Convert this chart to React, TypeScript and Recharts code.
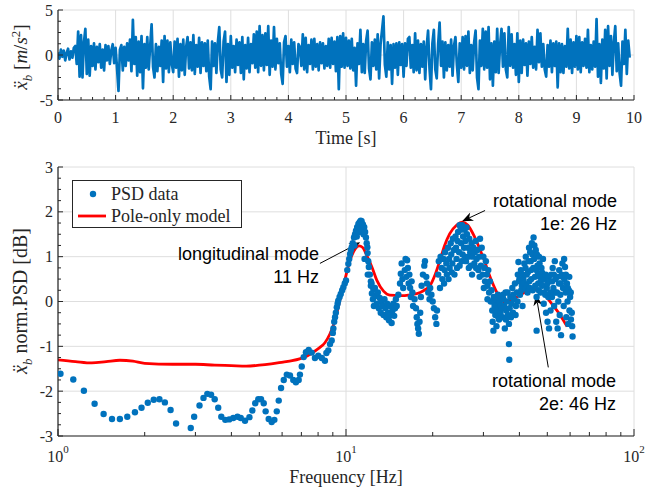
import React from "react";
import {
  LineChart,
  Line,
  ComposedChart,
  Scatter,
  XAxis,
  YAxis,
  CartesianGrid,
  ReferenceLine,
} from "recharts";

const SERIF = '"Liberation Serif", "Times New Roman", serif';
const SANS = '"Liberation Sans", Arial, sans-serif';
const BLUE = "#0072BD";
const RED = "#FF0000";
const GRID = "#DEDEDE";

// ---- top panel: base acceleration, sampled every 25 ms ----
const timeStep = 0.025;
const accel = [
  0.3, -0.4, 0.6, -0.2, 0.5, -0.6, 0.2, 0.7, -0.5, 0.4, -0.3, 0.8, 1.0, -1.0, 2.6, -2.4, 2.2, -2.5, 1.4, 2.9,
  -2.1, 1.7, -2.3, 1.0, -1.2, 1.3, -1.6, 0.9, -0.8, 1.2, -1.4, 0.6, -1.7, 1.1, -0.6, 1.0, -1.0, 0.5, 1.2, -0.9,
  0.8, -1.5, -4.0, 0.6, 1.1, -1.7, 0.9, -1.2, 1.3, -0.6, 1.7, -1.8, 3.9, -1.0, 2.0, -2.3, 1.5, -1.9, 2.1, -3.7,
  1.2, -1.4, 2.0, -1.6, 1.0, 3.4, -1.3, -2.5, 1.2, -1.8, 0.9, -1.2, 1.6, -3.0, 2.1, -1.5, 1.6, -1.9, 1.4, -1.0,
  -1.9, 1.5, -1.4, 1.8, -2.4, 1.2, -1.7, 1.7, -2.2, 0.9, 2.0, -1.5, 1.4, -1.7, 2.2, -2.1, 1.1, -1.3, 1.9, -2.0,
  1.4, -1.2, 1.3, -1.8, 1.6, -2.4, -3.8, 1.5, -1.2, 1.3, -2.0, 1.4, 3.1, -1.6, -2.5, 1.5, 2.6, -3.0, 1.2, -2.2,
  2.1, -1.4, 1.0, -1.9, 1.7, -1.1, 1.4, -2.0, 2.0, -2.7, 1.1, -1.5, 1.9, -1.9, 1.2, -0.9, 2.3, -1.4, 2.6, -1.9,
  3.2, -1.2, 2.2, -1.7, 2.4, -1.1, 3.2, -2.2, 1.6, -1.3, 3.1, -1.6, 1.8, -0.9, 1.3, -2.1, -3.2, 1.4, 2.1, -1.3,
  1.0, -1.9, 1.7, -1.0, 1.4, -1.5, -2.0, 1.2, 0.9, -1.2, 2.3, -1.6, 1.9, -1.9, 1.1, -1.0, 1.7, -1.6, 1.8, -1.3,
  1.2, -1.7, 1.4, -0.9, 1.3, -1.5, 1.0, -1.2, 1.8, -1.4, 1.9, -1.0, 1.5, -1.8, 2.0, -3.8, 2.1, -1.3, 2.4, -1.4,
  1.9, -1.2, 1.6, -1.5, 1.8, -1.7, 0.8, -3.4, 1.3, -1.0, 2.8, -1.9, 1.2, -2.0, 1.6, 2.7, -1.5, -2.7, 1.4, -1.2,
  1.7, -1.6, 2.3, -2.6, 1.2, 2.7, 4.3, -1.1, -2.4, 1.4, -1.6, 1.1, -3.2, 1.2, -1.4, 1.3, -2.2, 1.4, -1.1, 1.2,
  -2.4, 1.3, -1.2, 1.8, 2.0, -1.4, 1.1, -1.9, 2.4, -1.7, 1.6, -2.0, 1.2, -1.3, 1.5, -2.7, 0.9, 2.7, -1.5, -3.8,
  1.3, 2.8, -1.6, -2.6, 1.2, 3.6, -1.2, 1.5, -2.5, 1.4, -1.7, 1.1, -1.3, 1.7, -2.3, 1.0, 2.0, -1.1, -3.0, 1.3,
  -1.4, 2.0, -1.6, 2.1, -1.2, 2.6, -2.0, 1.1, -1.7, 1.4, 2.7, -2.5, -3.8, 1.6, -1.2, 2.9, -1.6, 2.6, -1.4, 3.1,
  -2.7, 1.3, -3.4, 1.5, -1.9, 2.9, -2.0, 1.1, 2.9, -1.3, 2.4, -1.6, -2.5, 3.1, -1.2, 2.3, -1.4, 1.2, -2.2, 2.4,
  -3.0, 1.6, -2.0, 1.7, -1.1, 1.3, -2.3, 1.5, -1.0, 2.0, -1.4, 0.9, -1.6, 2.8, -0.8, 2.4, -1.3, 1.2, -1.6, -2.4,
  1.1, -1.3, 1.6, -1.9, 1.3, -1.2, 1.5, -3.6, 1.3, -1.9, 1.2, -2.0, 1.0, -1.3, 2.9, -1.5, 1.7, -2.0, 1.4, -1.3,
  2.1, -1.6, 2.0, -1.9, 1.4, -1.2, 1.8, -1.4, 2.8, -1.9, 1.1, -1.6, 1.5, -1.3, 4.0, -2.4, 1.2, -3.1, 1.7, -1.5,
  2.8, -2.6, 3.2, -1.2, 2.1, -2.2, 1.4, 3.2, -1.8, 1.3, -2.0, -3.4, 1.5, -1.0, 2.8, -2.1, 1.6, -0.3,
];
const timeTicks = [0, 1, 2, 3, 4, 5, 6, 7, 8, 9, 10];
const accelTicks = [-5, 0, 5];

// ---- bottom panel: normalised PSD [Hz, dB] ----
const psdLow: [number, number][] = [
  [1.02, -1.61], [1.13, -1.74], [1.23, -1.99], [1.34, -2.28], [1.44, -2.51], [1.54, -2.62], [1.64, -2.62],
  [1.74, -2.57], [1.85, -2.47], [1.95, -2.37], [2.05, -2.26], [2.15, -2.19], [2.25, -2.18], [2.35, -2.25],
  [2.46, -2.42], [2.57, -2.72], [2.89, -2.82], [2.97, -2.57], [3.1, -2.32], [3.2, -2.15], [3.3, -2.06],
  [3.4, -2.08], [3.5, -2.18], [3.6, -2.37], [3.69, -2.57], [3.81, -2.64], [3.93, -2.63], [4.06, -2.6],
  [4.2, -2.57], [4.31, -2.6], [4.46, -2.66], [4.62, -2.58], [4.73, -2.43], [4.84, -2.27], [4.96, -2.18],
  [5.07, -2.18], [5.18, -2.27], [5.26, -2.45], [5.39, -2.62], [5.52, -2.69], [5.64, -2.64], [5.75, -2.45],
  [5.84, -2.21], [5.95, -1.93], [6.08, -1.75], [6.23, -1.63], [6.39, -1.65], [6.56, -1.75], [6.7, -1.8],
  [6.85, -1.75], [6.92, -1.63], [7.02, -1.45], [7.13, -1.24], [7.26, -1.13], [7.42, -1.08], [7.6, -1.14],
  [7.8, -1.26], [8.01, -1.21], [8.24, -1.26], [8.45, -1.32],
];
const psdFirstMode: [number, number][] = [
  [8.55, -1.15], [8.68, -1.09], [8.8, -0.95], [8.92, -0.87], [9.0, -0.7], [9.04, -0.6], [9.1, -0.45],
  [9.16, -0.35], [9.22, -0.25], [9.29, -0.13], [9.35, -0.05], [9.4, 0.02], [9.5, 0.1], [9.59, 0.17],
  [9.7, 0.25], [9.79, 0.32], [9.9, 0.4], [10.0, 0.47], [10.1, 0.7], [10.19, 0.84], [10.26, 0.95],
  [10.33, 1.06], [10.4, 1.15], [10.47, 1.21], [10.55, 1.3], [10.66, 1.43], [10.7, 1.25], [10.75, 1.5],
  [10.83, 1.58], [10.9, 1.45], [10.93, 1.66], [11.04, 1.73], [11.1, 1.55], [11.15, 1.77], [11.25, 1.8],
  [11.3, 1.62], [11.33, 1.79], [11.45, 1.72], [11.5, 1.5], [11.57, 1.66], [11.6, 0.95], [11.65, 1.55],
  [11.73, 1.43], [11.8, 1.3], [11.86, 1.21], [11.89, 1.08], [11.9, 0.6], [11.95, 0.9], [12.0, 0.77],
  [12.1, 0.6], [12.2, 0.45], [12.27, 0.4], [12.44, 0.28],
];
const psdMid: [number, number][] = [
  [12.2, 0.35], [12.3, 0.18], [12.4, 0.05], [12.5, -0.1], [12.6, 0.3], [12.7, 0.12], [12.8, -0.05],
  [12.9, 0.2], [13.0, -0.15], [13.1, 0.08], [13.2, -0.25], [13.3, 0.0], [13.4, -0.1], [13.5, -0.3],
  [13.6, 0.05], [13.7, -0.15], [13.8, -0.35], [13.9, -0.05], [14.0, -0.25], [14.1, -0.42], [14.2, -0.1],
  [14.3, -0.3], [14.4, -0.48], [14.5, -0.2], [14.6, -0.05], [14.7, -0.32], [14.8, -0.15], [14.9, 0.05],
  [15.0, -0.1], [15.2, 0.15], [15.4, 0.4], [15.5, 0.62], [15.6, 0.85], [15.7, 0.5], [15.8, 0.3],
  [16.0, 0.7], [16.1, 0.95], [16.2, 0.55], [16.3, 0.92], [16.4, 0.75], [16.5, 0.4], [16.6, 0.6],
  [16.7, 0.3], [16.8, 0.1], [16.9, 0.45], [17.0, 0.2], [17.1, -0.1], [17.3, 0.05], [17.5, -0.15],
  [17.6, -0.35], [17.7, -0.5], [17.8, -0.6], [17.9, -0.72], [18.0, -0.45], [18.1, -0.25], [18.2, 0.1],
  [18.3, 0.35], [18.5, 0.6], [18.7, 0.8], [18.8, 0.9], [19.0, 0.55], [19.1, 0.4], [19.3, 0.2],
  [19.5, 0.05], [19.6, 0.3], [19.8, 0.15], [20.0, 0.0], [20.2, -0.15], [20.4, -0.35], [20.6, -0.5],
  [20.7, -0.2],
];
const psdSecondMode: [number, number][] = [
  [20.9, 0.6], [21.0, 0.9], [21.2, 0.3], [21.3, 1.0], [21.5, 0.75], [21.6, 0.5], [21.8, 0.95], [21.9, 0.4],
  [22.0, 0.7], [22.1, 1.1], [22.3, 0.85], [22.4, 0.6], [22.6, 1.2], [22.7, 0.5], [22.8, 0.95], [22.9, 0.75],
  [23.1, 1.3], [23.2, 1.05], [23.3, 0.65], [23.4, 0.85], [23.5, 1.4], [23.7, 1.15], [23.8, 0.6], [24.0, 1.45],
  [24.1, 1.2], [24.2, 0.95], [24.3, 0.75], [24.4, 1.35], [24.5, 1.55], [24.7, 1.1], [24.8, 0.8], [24.8, 1.7],
  [25.0, 1.6], [25.1, 1.3], [25.2, 0.9], [25.3, 1.7], [25.4, 1.05], [25.5, 1.45], [25.7, 1.2], [25.8, 1.6],
  [25.9, 1.0], [26.0, 1.35], [26.1, 0.9], [26.2, 1.65], [26.3, 1.5], [26.5, 1.2], [26.6, 1.0], [26.7, 0.75],
  [26.8, 1.4], [27.0, 1.1], [27.1, 0.8], [27.3, 1.3], [27.4, 0.6], [27.5, 1.0], [27.7, 1.2], [27.9, 0.85],
  [28.0, 1.1], [28.2, 1.35], [28.3, 0.75], [28.4, 0.95], [28.6, 1.15], [28.8, 0.7], [29.0, 1.0], [29.1, 0.55],
  [29.2, 1.4], [29.4, 0.8], [29.6, 1.2], [29.8, 0.6], [30.0, 1.0], [30.1, 0.3], [30.2, 0.75], [30.4, 0.45],
  [30.6, 0.9], [30.8, 0.6], [31.0, 0.35], [31.0, 0.05], [31.2, 0.7], [31.4, 0.2], [31.6, 0.45], [31.8, 0.0],
  [32.0, 0.25],
];
const psdHigh: [number, number][] = [
  [32.2, -0.2], [32.3, -0.45], [32.4, 0.0], [32.5, -0.65], [32.6, 0.1], [32.8, -0.1], [33.0, -0.3],
  [33.1, -0.15], [33.2, 0.05], [33.3, -0.55], [33.5, -0.2], [33.7, 0.15], [33.8, -0.35], [33.9, -0.05],
  [34.0, -0.4], [34.2, 0.0], [34.4, -0.25], [34.5, -0.1], [34.6, 0.1], [34.8, -0.15], [35.0, -0.35],
  [35.1, 0.15], [35.2, 0.05], [35.4, -0.1], [35.6, -0.6], [35.8, 0.2], [35.9, -0.4], [36.0, -0.2],
  [36.2, 0.0], [36.4, 0.2], [36.5, -0.3], [36.8, -0.5], [36.8, -0.95], [36.9, -1.3], [37.0, -0.15],
  [37.2, 0.1], [37.4, -0.35], [37.5, -0.05], [37.8, 0.3], [38.0, -0.25], [38.1, 0.15], [38.3, 0.05],
  [38.6, 0.4], [38.8, -0.3], [38.9, -0.1], [39.2, 0.2], [39.4, 0.0], [39.5, 0.6], [39.7, 0.88],
  [39.9, 0.45], [40.0, 0.5], [40.2, 0.15], [40.5, 0.7], [40.6, 0.25], [40.8, 0.35], [41.0, -0.1],
  [41.1, 0.6], [41.3, 0.5], [41.5, 0.4], [41.6, 0.85], [41.9, 0.3], [42.0, 0.75], [42.1, 1.0],
  [42.3, 0.35], [42.4, 0.6], [42.7, 0.2], [42.8, 0.65], [43.0, 0.9], [43.2, 1.2], [43.3, 0.45],
  [43.5, 0.3], [43.6, 1.1], [43.8, 0.9], [43.9, 0.7], [44.0, 0.5], [44.2, 1.3], [44.4, 1.05],
  [44.5, 0.25], [44.7, 0.75], [44.8, 1.43], [45.0, 0.95], [45.1, 1.25], [45.3, 0.55], [45.4, 0.35],
  [45.6, 1.15], [45.8, 0.7], [45.9, 0.1], [45.9, -0.65], [46.0, 1.05], [46.2, 0.8], [46.4, 0.6],
  [46.5, 0.4], [46.7, 0.25], [46.8, 1.0], [47.0, 0.85], [47.1, 0.55], [47.4, 0.2], [47.5, 0.45],
  [47.7, 0.75], [47.9, 0.65], [48.0, 0.35], [48.3, 0.95], [48.4, 0.55], [48.6, -0.05], [48.8, 0.2],
  [48.9, 0.5], [49.2, 0.15], [49.4, 0.6], [49.5, -0.25], [49.8, 0.3], [50.0, 0.4], [50.1, -0.45],
  [50.4, 0.1], [50.6, 0.55], [50.7, -0.6], [51.0, 0.45], [51.2, 0.2], [51.3, -0.2], [51.6, 0.6],
  [51.9, 0.1], [52.0, 0.45], [52.2, 0.75], [52.5, 0.3], [52.7, 0.6], [52.8, -0.1], [53.1, 0.9],
  [53.3, 0.2], [53.4, 0.5], [53.7, -0.45], [54.0, 0.2], [54.2, 0.55], [54.3, -0.6], [54.6, 0.0],
  [54.9, 0.4], [55.0, 0.7], [55.2, -0.3], [55.5, 0.15], [55.7, 0.4], [55.8, -0.75], [56.1, 0.6],
  [56.4, 0.85], [56.5, 0.55], [56.7, 0.3], [57.0, -0.1], [57.2, 0.95], [57.3, 0.5], [57.6, 0.77],
  [57.9, 0.2], [58.0, 0.6], [58.2, -0.35], [58.5, 0.4], [58.8, 0.0], [58.9, 0.3], [59.1, -0.5],
  [59.4, 0.25], [59.6, 0.55], [59.7, -0.2], [60.0, 0.1], [60.3, 0.2], [60.4, -0.4], [60.8, -0.25],
  [61.0, -0.55], [61.2, -0.78],
];
const poleModel: [number, number][] = [
  [1, -1.3], [1.15, -1.34], [1.31, -1.37], [1.47, -1.34], [1.64, -1.31], [1.82, -1.33], [2.0, -1.38],
  [2.5, -1.4], [3.0, -1.4], [3.5, -1.42], [4.0, -1.43], [4.5, -1.44], [5.0, -1.42], [5.5, -1.39],
  [6.05, -1.35], [6.5, -1.32], [6.9, -1.28], [7.3, -1.22], [7.7, -1.13], [8.1, -1.03], [8.45, -0.92],
  [8.8, -0.72], [9.16, -0.42], [9.5, 0.0], [9.9, 0.47], [10.33, 0.92], [10.78, 1.18], [11.1, 1.24],
  [11.4, 1.21], [11.8, 1.03], [12.3, 0.77], [12.8, 0.47], [13.5, 0.23], [14.2, 0.14], [15.4, 0.13],
  [16.7, 0.15], [18.1, 0.2], [19.0, 0.28], [19.6, 0.36], [20.4, 0.6], [21.2, 0.92], [22.0, 1.25],
  [22.9, 1.51], [24.2, 1.7], [25.4, 1.77], [26.5, 1.7], [28.0, 1.43], [29.9, 0.99], [32.0, 0.47],
  [33.9, 0.13], [35.6, -0.02], [37.5, 0.02], [39.8, 0.13], [43.5, 0.25], [45.5, 0.26], [48.5, 0.17],
  [51.8, -0.05], [55.5, -0.31], [58.6, -0.56],
];
const freqMajor = [1, 10, 100];
const dbTicks = [-3, -2, -1, 0, 1, 2, 3];

// arrows: [tail Hz, tail dB, tip Hz, tip dB]
const arrowSegments: [number, number, number, number][] = [
  [8.12, 0.85, 11.2, 1.32],
  [30.4, 2.03, 25.3, 1.79],
  [50.4, -1.47, 45.7, 0.15],
];

// ---- tick helpers ----
const timeAll = Array.from({ length: 51 }, (_, i) => Math.round(i * 2) / 10);
const accelAll = Array.from({ length: 9 }, (_, i) => -5 + i * 1.25);
const dbAll = Array.from({ length: 25 }, (_, i) => -3 + i * 0.25);
const freqAll: number[] = [];
[1, 10].forEach((d) => {
  for (let k = 1; k < 10; k++) freqAll.push(d * k);
});
freqAll.push(100);

const isInt = (v: number) => Math.abs(v - Math.round(v)) < 1e-6;

type Side = "bottom" | "top" | "left" | "right";

function makeTick(
  side: Side,
  isMajor: (v: number) => boolean,
  majorLen: number,
  minorLen: number,
  label?: (v: number, x: number, y: number) => React.ReactNode
) {
  return (props: any) => {
    const { x, y, payload } = props;
    const v = payload.value as number;
    const major = isMajor(v);
    const len = major ? majorLen : minorLen;
    let l = { x1: x, y1: y, x2: x, y2: y };
    if (side === "bottom") l = { x1: x, y1: y, x2: x, y2: y - len };
    if (side === "top") l = { x1: x, y1: y, x2: x, y2: y + len };
    if (side === "left") l = { x1: x, y1: y, x2: x + len, y2: y };
    if (side === "right") l = { x1: x, y1: y, x2: x - len, y2: y };
    return (
      <g>
        <line {...l} stroke="#262626" strokeWidth={1} />
        {label && major ? label(v, x, y) : null}
      </g>
    );
  };
}

const linearBottomLabel = (v: number, x: number, y: number) => (
  <text x={x} y={y + 17} textAnchor="middle" dominantBaseline="central" fontSize={16} fontFamily={SERIF} fill="#262626">
    {v}
  </text>
);
const leftLabel = (v: number, x: number, y: number) => (
  <text x={x - 5} y={y} textAnchor="end" dominantBaseline="central" fontSize={16} fontFamily={SERIF} fill="#262626">
    {v}
  </text>
);
const logBottomLabel = (v: number, x: number, y: number) => (
  <text x={x} y={y + 20} textAnchor="middle" dominantBaseline="central" fontSize={16} fontFamily={SERIF} fill="#262626">
    <tspan>10</tspan>
    <tspan dy={-7} fontSize={11}>{Math.round(Math.log10(v))}</tspan>
  </text>
);

const isDecade = (v: number) => freqMajor.some((m) => Math.abs(m - v) < 1e-6);

function Arrow(props: any) {
  const { x1, y1, x2, y2 } = props;
  const a = Math.atan2(y2 - y1, x2 - x1);
  const c = Math.cos(a);
  const s = Math.sin(a);
  const L = 11;
  const W = 4.5;
  const bx = x2 - L * c;
  const by = y2 - L * s;
  const nx = x2 - 0.7 * L * c;
  const ny = y2 - 0.7 * L * s;
  const pts = `${x2},${y2} ${bx + W * s},${by - W * c} ${nx},${ny} ${bx - W * s},${by + W * c}`;
  return (
    <g>
      <line x1={x1} y1={y1} x2={nx} y2={ny} stroke="#000" strokeWidth={1} />
      <polygon points={pts} fill="#000" />
    </g>
  );
}

const Dot = (props: any) => <circle cx={props.cx} cy={props.cy} r={3.2} fill={BLUE} />;

const annText: React.CSSProperties = {
  position: "absolute",
  fontFamily: SANS,
  fontSize: 18,
  lineHeight: "23px",
  textAlign: "right",
  color: "#000",
  whiteSpace: "nowrap",
  transform: "translateX(-100%)",
};

const axisTitle: React.CSSProperties = {
  position: "absolute",
  fontFamily: SERIF,
  fontSize: 18,
  color: "#262626",
  whiteSpace: "nowrap",
  transform: "translate(-50%, -50%)",
};

export default function App() {
  const timeData = accel.map((a, i) => ({ t: i * timeStep, a }));
  const psdData = [...psdLow, ...psdFirstMode, ...psdMid, ...psdSecondMode, ...psdHigh].map(([f, v]) => ({ f, v }));
  const modelData = poleModel.map(([f, v]) => ({ f, v }));

  return (
    <div style={{ position: "absolute", left: 0, top: 0, width: 659, height: 491, background: "#fff", overflow: "hidden" }}>
      <div style={{ position: "absolute", left: 0, top: 0 }}>
        <LineChart width={659} height={150} data={timeData} margin={{ top: 10, right: 25, bottom: 0, left: 0 }}>
          <XAxis xAxisId="grid" dataKey="t" type="number" domain={[0, 10]} ticks={timeTicks} hide allowDataOverflow />
          <YAxis yAxisId="grid" type="number" domain={[-5, 5]} ticks={accelTicks} hide allowDataOverflow />
          <CartesianGrid xAxisId="grid" yAxisId="grid" stroke={GRID} />
          <XAxis
            dataKey="t"
            type="number"
            domain={[0, 10]}
            ticks={timeAll}
            interval={0}
            height={50}
            tickSize={0}
            tickMargin={0}
            tickLine={false}
            axisLine={{ stroke: "#262626", strokeWidth: 1.2 }}
            tick={makeTick("bottom", isInt, 5, 3, linearBottomLabel)}
            allowDataOverflow
          />
          <XAxis
            xAxisId="top"
            orientation="top"
            dataKey="t"
            type="number"
            domain={[0, 10]}
            ticks={timeAll}
            interval={0}
            height={0}
            tickSize={0}
            tickMargin={0}
            tickLine={false}
            axisLine={{ stroke: "#262626", strokeWidth: 1.2 }}
            tick={makeTick("top", isInt, 5, 3)}
            allowDataOverflow
          />
          <YAxis
            dataKey="a"
            type="number"
            domain={[-5, 5]}
            ticks={accelAll}
            interval={0}
            width={58}
            tickSize={0}
            tickMargin={0}
            tickLine={false}
            axisLine={{ stroke: "#262626", strokeWidth: 1.2 }}
            tick={makeTick("left", (v) => accelTicks.includes(v), 5, 3, leftLabel)}
            allowDataOverflow
          />
          <YAxis
            yAxisId="right"
            orientation="right"
            type="number"
            domain={[-5, 5]}
            ticks={accelAll}
            interval={0}
            width={0}
            tickSize={0}
            tickMargin={0}
            tickLine={false}
            axisLine={{ stroke: "#262626", strokeWidth: 1.2 }}
            tick={makeTick("right", (v) => accelTicks.includes(v), 5, 3)}
            allowDataOverflow
          />
          <Line
            dataKey="a"
            type="linear"
            stroke={BLUE}
            strokeWidth={2.7}
            strokeLinejoin="round"
            dot={false}
            activeDot={false}
            isAnimationActive={false}
          />
        </LineChart>
      </div>

      <div style={{ position: "absolute", left: 0, top: 150 }}>
        <ComposedChart width={659} height={341} margin={{ top: 17, right: 25, bottom: 0, left: 0 }}>
          <XAxis xAxisId="grid" dataKey="f" type="number" scale="log" domain={[1, 100]} ticks={freqMajor} hide allowDataOverflow />
          <YAxis yAxisId="grid" type="number" domain={[-3, 3]} ticks={dbTicks} hide allowDataOverflow />
          <CartesianGrid xAxisId="grid" yAxisId="grid" stroke={GRID} />
          <XAxis
            dataKey="f"
            type="number"
            scale="log"
            domain={[1, 100]}
            ticks={freqAll}
            interval={0}
            height={55}
            tickSize={0}
            tickMargin={0}
            tickLine={false}
            axisLine={{ stroke: "#262626", strokeWidth: 1.2 }}
            tick={makeTick("bottom", isDecade, 7, 4, logBottomLabel)}
            allowDataOverflow
          />
          <XAxis
            xAxisId="top"
            orientation="top"
            dataKey="f"
            type="number"
            scale="log"
            domain={[1, 100]}
            ticks={freqAll}
            interval={0}
            height={0}
            tickSize={0}
            tickMargin={0}
            tickLine={false}
            axisLine={{ stroke: "#262626", strokeWidth: 1.2 }}
            tick={makeTick("top", isDecade, 7, 4)}
            allowDataOverflow
          />
          <YAxis
            dataKey="v"
            type="number"
            domain={[-3, 3]}
            ticks={dbAll}
            interval={0}
            width={58}
            tickSize={0}
            tickMargin={0}
            tickLine={false}
            axisLine={{ stroke: "#262626", strokeWidth: 1.2 }}
            tick={makeTick("left", isInt, 5, 3, leftLabel)}
            allowDataOverflow
          />
          <YAxis
            yAxisId="right"
            orientation="right"
            type="number"
            domain={[-3, 3]}
            ticks={dbAll}
            interval={0}
            width={0}
            tickSize={0}
            tickMargin={0}
            tickLine={false}
            axisLine={{ stroke: "#262626", strokeWidth: 1.2 }}
            tick={makeTick("right", isInt, 5, 3)}
            allowDataOverflow
          />
          <Scatter data={psdData} dataKey="v" fill={BLUE} shape={Dot} isAnimationActive={false} />
          <Line
            data={modelData}
            dataKey="v"
            type="monotone"
            stroke={RED}
            strokeWidth={2.8}
            dot={false}
            activeDot={false}
            isAnimationActive={false}
          />
          {arrowSegments.map(([fx, fy, tx, ty], i) => (
            <ReferenceLine
              key={i}
              segment={[
                { x: fx, y: fy },
                { x: tx, y: ty },
              ]}
              ifOverflow="visible"
              shape={Arrow}
            />
          ))}
        </ComposedChart>
      </div>

      {/* axis titles */}
      <div style={{ ...axisTitle, left: 346, top: 138 }}>Time [s]</div>
      <div style={{ ...axisTitle, left: 346, top: 477 }}>Frequency [Hz]</div>
      <div style={{ ...axisTitle, fontSize: 19, left: 22, top: 57, transform: "translate(-50%, -50%) rotate(-90deg)" }}>
        <i>ẍ</i>
        <sub style={{ fontSize: 13 }}>
          <i>b</i>
        </sub>{" "}
        [<i>m</i>/<i>s</i>
        <sup style={{ fontSize: 13 }}>2</sup>]
      </div>
      <div style={{ ...axisTitle, fontSize: 20, left: 22, top: 301, transform: "translate(-50%, -50%) rotate(-90deg)" }}>
        <i>ẍ</i>
        <sub style={{ fontSize: 13 }}>
          <i>b</i>
        </sub>{" "}
        norm.PSD [dB]
      </div>

      {/* legend */}
      <div
        style={{
          position: "absolute",
          left: 72,
          top: 180,
          width: 168,
          height: 46,
          border: "1px solid #262626",
          background: "#fff",
          fontFamily: SERIF,
          fontSize: 18,
          color: "#262626",
        }}
      >
        <svg width={36} height={46} style={{ position: "absolute", left: 0, top: 0 }}>
          <circle cx={20} cy={13} r={3.2} fill={BLUE} />
          <line x1={5} y1={35} x2={33} y2={35} stroke={RED} strokeWidth={2.8} />
        </svg>
        <div style={{ position: "absolute", left: 38, top: 2, lineHeight: "22px", whiteSpace: "nowrap" }}>PSD data</div>
        <div style={{ position: "absolute", left: 38, top: 24, lineHeight: "22px", whiteSpace: "nowrap" }}>
          Pole-only model
        </div>
      </div>

      {/* annotations */}
      <div style={{ ...annText, left: 319, top: 243 }}>
        longitudinal mode
        <br />
        11 Hz
      </div>
      <div style={{ ...annText, left: 617, top: 190 }}>
        rotational mode
        <br />
        1e: 26 Hz
      </div>
      <div style={{ ...annText, left: 616, top: 370 }}>
        rotational mode
        <br />
        2e: 46 Hz
      </div>
    </div>
  );
}
